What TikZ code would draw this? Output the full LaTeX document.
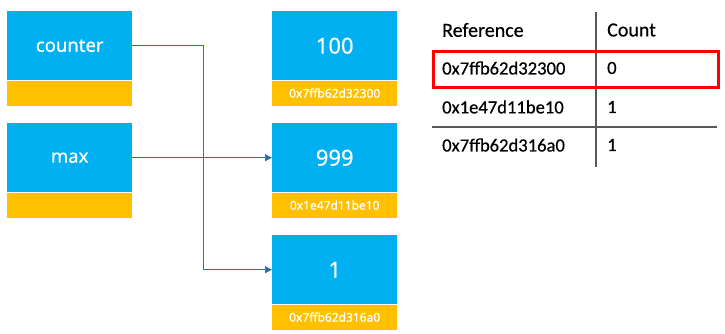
\documentclass[tikz,border=0pt]{standalone}
\usepackage{fontspec}
\setmainfont{Noto Sans}
\newfontfamily\boxfont{Noto Sans}[FakeBold=0.6]
\newfontfamily\tablefont{Carlito}[FakeBold=0.5]
\usetikzlibrary{arrows.meta}
\definecolor{cblue}{HTML}{00B0F0}
\definecolor{cyellow}{HTML}{FFC000}
\definecolor{carrow}{HTML}{2F6EBA}
\definecolor{cgrid}{HTML}{595959}
\tikzset{
  varbox/.style={fill=cblue, minimum width=125pt, minimum height=69pt, inner sep=0pt, text=white, font=\boxfont\fontsize{18.5}{22}\selectfont, anchor=north west},
  addrbox/.style={fill=cyellow, minimum width=125pt, minimum height=25pt, inner sep=0pt, text=white, font=\boxfont\fontsize{12}{14}\selectfont, anchor=north},
  valfont/.style={font=\boxfont\fontsize{22}{26}\selectfont},
  ptr/.style={carrow, line width=1.1pt, -{Triangle[length=7pt,width=7pt]}},
  cell/.style={anchor=west, inner sep=0pt, font=\tablefont\fontsize{18.6}{22}\selectfont, text=black},
  head/.style={anchor=west, inner sep=0pt, font=\tablefont\fontsize{20}{24}\selectfont, text=black},
}
\begin{document}
\begin{tikzpicture}[x=1pt,y=-1pt]
\useasboundingbox (0,0) rectangle (725,333);
% left variables
\node[varbox] (counter) at (7,11) {counter};
\node[addrbox] (counterA) at (counter.south) {};
\node[varbox] (max) at (7,123) {max};
\node[addrbox] (maxA) at (max.south) {};
% objects
\node[varbox,valfont] (v100) at (272,11) {100};
\node[addrbox] (v100A) at (v100.south) {0x7ffb62d32300};
\node[varbox,valfont] (v999) at (272,123) {999};
\node[addrbox] (v999A) at (v999.south) {0x1e47d11be10};
\node[varbox,valfont] (v1) at (272,235) {1};
\node[addrbox] (v1A) at (v1.south) {0x7ffb62d316a0};
% pointers
\draw[ptr] (counter.east) -- ++(71,0) |- (v1.west);
\draw[ptr] (max.east) -- (v999.west);
% table
\coordinate (vtop) at (596,12);
\coordinate (vbot) at (596,167);
\draw[cgrid, line width=1.5pt] (vtop) -- (vbot);
\coordinate (hl) at (432,127);
\coordinate (hr) at (717,127);
\draw[cgrid, line width=1.5pt] (hl) -- (hr);
\node[head] (h1) at (442,30) {Reference};
\node[head] (h2) at (607,30) {Count};
\node[cell] (r1a) at (442,68) {0x7ffb62d32300};
\node[cell] (r1b) at (607,68) {0};
\node[cell] (r2a) at (442,107) {0x1e47d11be10};
\node[cell] (r2b) at (607,107) {1};
\node[cell] (r3a) at (442,145) {0x7ffb62d316a0};
\node[cell] (r3b) at (607,145) {1};
\coordinate (rtl) at (433,51);
\coordinate (rbr) at (718,87);
\draw[red, line width=3pt] (rtl) rectangle (rbr);
\end{tikzpicture}
\end{document}
